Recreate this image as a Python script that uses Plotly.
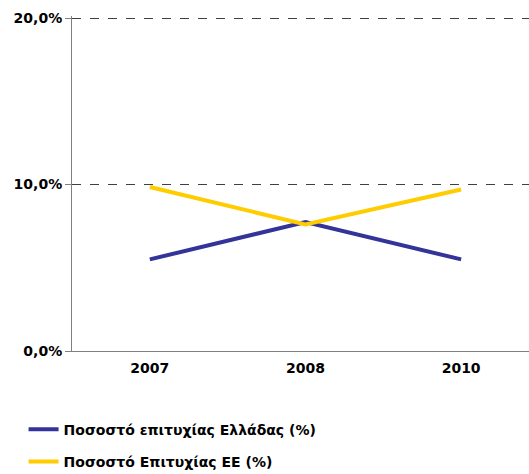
import plotly.graph_objects as go

years = ["2007", "2008", "2010"]
greece = [5.5, 7.75, 5.5]
eu = [9.85, 7.6, 9.7]
y_ticks = [0, 10, 20]
y_tick_labels = ["0,0%", "10,0%", "20,0%"]

fig = go.Figure()
fig.add_trace(go.Scatter(x=years, y=greece, mode="lines",
                         name="Ποσοστό επιτυχίας Ελλάδας (%)", legendgroup="g1",
                         line=dict(color="#333399", width=4)))
fig.add_trace(go.Scatter(x=years, y=eu, mode="lines",
                         name="Ποσοστό Επιτυχίας ΕΕ (%)", legendgroup="g2",
                         line=dict(color="#FFCC00", width=4)))

font = dict(family="DejaVu Sans", size=14, color="#000000", weight="bold")
fig.update_layout(
    width=529, height=474,
    margin=dict(l=72, r=0, t=16, b=123, autoexpand=False),
    paper_bgcolor="white", plot_bgcolor="white",
    font=font,
    showlegend=True,
    legend=dict(orientation="v", x=-0.106, y=-0.187, xanchor="left", yanchor="top",
                font=font, itemwidth=30, tracegroupgap=11),
    xaxis=dict(type="category", range=[-0.5, 2.436], showgrid=False,
               showline=True, linecolor="#808080", linewidth=1,
               ticks="", tickfont=font, fixedrange=True, automargin=False,
               ticklabelstandoff=4),
    yaxis=dict(range=[0, 20.12], tickvals=y_ticks, ticktext=y_tick_labels,
               showgrid=True, gridcolor="#404040", griddash="dash", gridwidth=1,
               showline=True, linecolor="#808080", linewidth=1,
               ticks="outside", ticklen=6, tickcolor="#808080",
               tickfont=font, zeroline=False, automargin=False),
)
fig.write_html("out.html", config={"displayModeBar": False},
               post_script="document.body.style.margin='0';document.body.style.overflow='hidden';")
